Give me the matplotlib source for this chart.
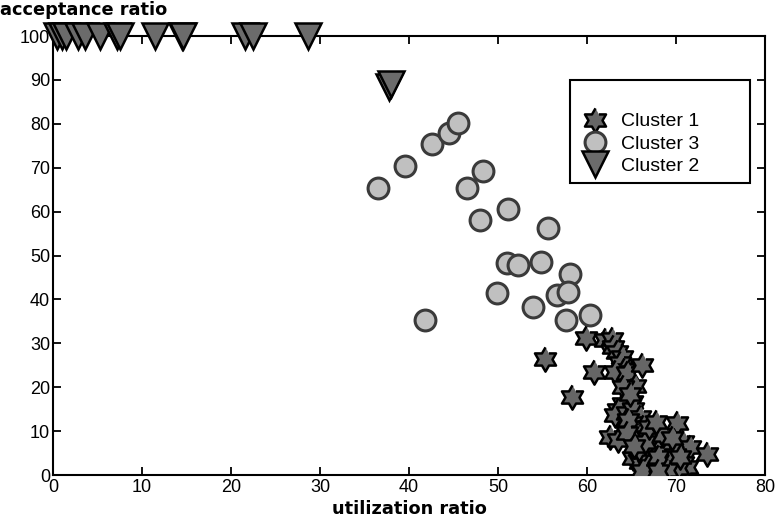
import matplotlib
matplotlib.use("Agg")
import numpy as np
import matplotlib.pyplot as plt

# cluster 1 (stars)
c1_x = [55.3, 58.3, 59.9, 60.8, 62.0, 62.8, 62.9, 63.4, 63.9, 63.7, 64.2, 63.1, 64.5,
        66.2, 65.4, 65.0, 64.0, 63.5, 63.1, 64.5, 65.2, 66.0, 65.1, 66.3, 64.6, 70.1,
        62.6, 63.5, 65.6, 66.7, 67.1, 68.2, 69.3, 70.8, 71.6, 73.5, 65.2, 66.0, 67.1,
        67.9, 68.5, 69.7, 70.8, 71.2, 67.4, 66.3, 68.8, 69.9, 66.8, 70.2, 67.5, 68.0,
        64.0, 64.8, 65.8, 66.5, 67.0, 68.5, 69.0, 66.2, 64.5, 65.3, 68.0, 70.5, 67.8, 69.5]
c1_y = [26.4, 17.8, 31.2, 23.5, 30.8, 31.0, 29.2, 28.0, 26.8, 25.5, 24.0, 23.5, 23.2,
        25.0, 20.3, 16.6, 16.2, 14.8, 13.7, 14.1, 15.0, 13.2, 11.8, 10.9, 12.5, 11.8,
        8.7, 8.0, 9.1, 8.7, 6.4, 7.3, 6.4, 7.5, 6.4, 4.8, 3.9, 3.0, 1.8,
        1.8, 3.4, 3.4, 2.7, 1.8, 5.0, 5.2, 5.0, 4.5, 2.0, 1.5, 9.5, 4.2,
        20.0, 18.5, 6.0, 7.5, 11.0, 9.0, 1.2, 1.0, 9.5, 6.5, 0.8, 4.0, 12.0, 8.5]

# cluster 3 (circles)
c3_x = [36.5, 39.6, 42.6, 44.5, 45.5, 46.5, 48.3, 48.0, 51.1, 55.6, 51.0, 52.2,
        54.8, 58.1, 49.9, 53.9, 56.6, 57.9, 57.6, 60.3, 41.8]
c3_y = [65.4, 70.4, 75.4, 77.9, 80.2, 65.4, 69.2, 58.1, 60.6, 56.3, 48.3, 47.8,
        48.5, 45.8, 41.5, 38.3, 41.0, 41.7, 35.3, 36.4, 35.3]

# cluster 2 (triangles)
c2_x = [0.5, 1.0, 1.5, 2.8, 3.6, 5.3, 7.2, 7.5, 11.5, 14.5, 14.6, 21.6, 22.5, 28.7, 37.7, 38.0]
c2_y = [100, 100, 100, 100, 100, 100, 100, 100, 100, 100, 100, 100, 100, 100, 88.3, 89.0]

# six pointed star marker
ang = np.deg2rad(90 + 30 * np.arange(12))
rad = np.where(np.arange(12) % 2 == 0, 1.0, 1 / np.sqrt(3))
hexagram = list(zip(rad * np.cos(ang), rad * np.sin(ang)))

tick_font = 'Liberation Sans'

fig = plt.figure(figsize=(7.76, 5.26), dpi=100)
ax = fig.add_axes([53 / 776, 1 - 475 / 526, 712 / 776, 439 / 526])

h3, = ax.plot(c3_x, c3_y, 'o', ms=15, mfc='#c0c0c0', mec='#3a3a3a', mew=2.2,
              label='Cluster 3', zorder=2)
h1, = ax.plot(c1_x, c1_y, marker=hexagram, ls='none', ms=17.5, mfc='#666666', mec='black',
              mew=1.8, label='Cluster 1', zorder=3)
h2, = ax.plot(c2_x, c2_y, 'v', ms=19, mfc='#6b6b6b', mec='black', mew=1.8,
              label='Cluster 2', zorder=4, clip_on=False)

ax.set_xlim(0, 80)
ax.set_ylim(0, 100)
ax.set_xticks(range(0, 81, 10))
ax.set_yticks(range(0, 101, 10))
ax.tick_params(direction='in', top=True, right=True, length=6, width=1.3, labelsize=13)
ax.tick_params(axis='y', pad=2)
ax.tick_params(axis='x', pad=3)
for lab in ax.get_xticklabels() + ax.get_yticklabels():
    lab.set_family(tick_font)
for sp in ax.spines.values():
    sp.set_linewidth(1.5)

ax.set_xlabel('utilization ratio', fontsize=12.8, fontweight='bold', labelpad=3)
fig.text(0.0, 1 - 10 / 526, 'acceptance ratio', fontsize=12.8, fontweight='bold',
         ha='left', va='center')

leg = ax.legend([h1, h3, h2], ['Cluster 1', 'Cluster 3', 'Cluster 2'],
                loc='lower left', bbox_to_anchor=(0.726, 0.665, 0.253, 0.239),
                mode='expand', borderaxespad=0, fancybox=False, framealpha=1,
                edgecolor='black', title=' ', title_fontsize=16,
                handlelength=1.8, handletextpad=0.45, labelspacing=0.25, borderpad=0.4,
                prop={'family': tick_font, 'size': 14})
leg.get_frame().set_linewidth(1.5)

fig.savefig('out.png', dpi=100)
